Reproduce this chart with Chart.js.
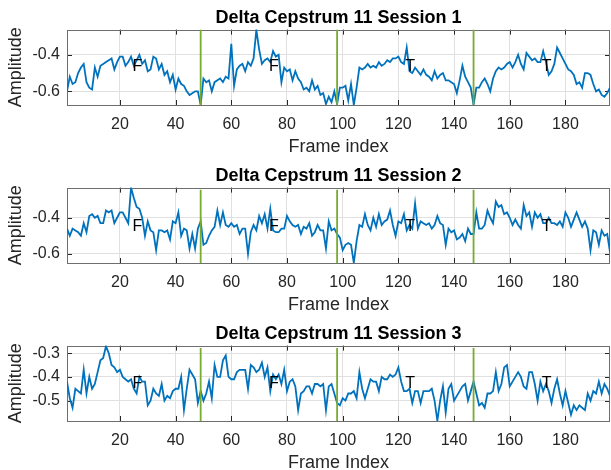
<!DOCTYPE html>
<html>
<head>
<meta charset="utf-8">
<script src="https://cdn.jsdelivr.net/npm/chart.js@4.4.1/dist/chart.umd.min.js"></script>
<style>
  body { margin: 0; background: #fff; width: 611px; height: 470px; overflow: hidden; position: relative; }
  canvas { position: absolute; left: 0; }
</style>
</head>
<body>
<canvas id="chart1" width="611" height="158" style="top:0px"></canvas>
<canvas id="chart2" width="611" height="158" style="top:158px"></canvas>
<canvas id="chart3" width="611" height="158" style="top:316px"></canvas>
<script>
// Delta cepstrum 11 values, frames 1..196
const session1 = [
  -0.60, -0.52, -0.56, -0.55, -0.50, -0.47, -0.45, -0.55, -0.58, -0.59,
  -0.47, -0.52, -0.46, -0.45, -0.44, -0.43, -0.42, -0.48, -0.44, -0.41,
  -0.41, -0.46, -0.44, -0.41, -0.46, -0.43, -0.40, -0.45, -0.43, -0.49,
  -0.48, -0.41, -0.42, -0.48, -0.45, -0.51, -0.49, -0.55, -0.51, -0.59,
  -0.53, -0.56, -0.57, -0.60, -0.62, -0.61, -0.60, -0.60, -0.675, -0.53,
  -0.55, -0.54, -0.60, -0.55, -0.54, -0.53, -0.55, -0.52, -0.53, -0.34,
  -0.57, -0.48, -0.46, -0.45, -0.49, -0.44, -0.46, -0.42, -0.263, -0.37,
  -0.45, -0.43, -0.42, -0.44, -0.38, -0.41, -0.40, -0.55, -0.47, -0.49,
  -0.48, -0.54, -0.49, -0.53, -0.55, -0.59, -0.58, -0.60, -0.54, -0.59,
  -0.57, -0.62, -0.61, -0.67, -0.63, -0.66, -0.60, -0.67, -0.58, -0.58,
  -0.57, -0.65, -0.56, -0.675, -0.58, -0.47, -0.48, -0.47, -0.45, -0.47,
  -0.46, -0.47, -0.44, -0.46, -0.45, -0.43, -0.44, -0.42, -0.42, -0.41,
  -0.44, -0.45, -0.36, -0.49, -0.50, -0.47, -0.49, -0.51, -0.48, -0.51,
  -0.52, -0.54, -0.49, -0.53, -0.51, -0.50, -0.54, -0.54, -0.55, -0.56,
  -0.61, -0.54, -0.46, -0.52, -0.55, -0.58, -0.675, -0.58, -0.58, -0.55,
  -0.53, -0.56, -0.60, -0.53, -0.49, -0.47, -0.48, -0.47, -0.45, -0.44,
  -0.47, -0.44, -0.40, -0.45, -0.48, -0.39, -0.41, -0.43, -0.42, -0.44,
  -0.44, -0.38, -0.44, -0.51, -0.49, -0.45, -0.36, -0.39, -0.42, -0.45,
  -0.48, -0.49, -0.51, -0.56, -0.55, -0.58, -0.50, -0.50, -0.51, -0.56,
  -0.60, -0.59, -0.62, -0.63, -0.61, -0.58
];
const session2 = [
  -0.46, -0.50, -0.46, -0.47, -0.48, -0.50, -0.43, -0.48, -0.39, -0.38,
  -0.40, -0.39, -0.43, -0.43, -0.36, -0.37, -0.36, -0.43, -0.40, -0.37,
  -0.37, -0.40, -0.43, -0.233, -0.29, -0.34, -0.35, -0.40, -0.50, -0.42,
  -0.47, -0.48, -0.58, -0.47, -0.47, -0.48, -0.47, -0.52, -0.42, -0.43,
  -0.37, -0.50, -0.46, -0.47, -0.57, -0.49, -0.57, -0.46, -0.42, -0.55,
  -0.54, -0.50, -0.47, -0.45, -0.36, -0.44, -0.37, -0.44, -0.45, -0.43,
  -0.45, -0.44, -0.49, -0.46, -0.46, -0.60, -0.48, -0.44, -0.47, -0.39,
  -0.43, -0.38, -0.46, -0.35, -0.47, -0.48, -0.48, -0.46, -0.46, -0.39,
  -0.42, -0.44, -0.45, -0.44, -0.49, -0.45, -0.46, -0.43, -0.50, -0.48,
  -0.44, -0.47, -0.47, -0.57, -0.42, -0.47, -0.46, -0.49, -0.51, -0.58,
  -0.55, -0.54, -0.55, -0.65, -0.53, -0.44, -0.45, -0.38, -0.44, -0.47,
  -0.40, -0.45, -0.38, -0.44, -0.42, -0.41, -0.36, -0.44, -0.50, -0.42,
  -0.43, -0.38, -0.47, -0.44, -0.46, -0.32, -0.46, -0.42, -0.43, -0.44,
  -0.43, -0.46, -0.44, -0.39, -0.43, -0.44, -0.55, -0.46, -0.48, -0.47,
  -0.52, -0.51, -0.49, -0.53, -0.46, -0.49, -0.49, -0.37, -0.46, -0.46,
  -0.44, -0.36, -0.40, -0.43, -0.31, -0.34, -0.33, -0.38, -0.37, -0.40,
  -0.44, -0.41, -0.44, -0.46, -0.33, -0.39, -0.37, -0.45, -0.37, -0.40,
  -0.38, -0.43, -0.43, -0.40, -0.43, -0.43, -0.44, -0.42, -0.45, -0.37,
  -0.40, -0.45, -0.41, -0.37, -0.41, -0.45, -0.42, -0.46, -0.58, -0.47,
  -0.48, -0.55, -0.47, -0.50, -0.49, -0.59
];
const session3 = [
  -0.42, -0.49, -0.53, -0.45, -0.46, -0.47, -0.37, -0.47, -0.40, -0.45,
  -0.43, -0.38, -0.33, -0.32, -0.27, -0.30, -0.35, -0.36, -0.38, -0.37,
  -0.40, -0.41, -0.42, -0.41, -0.45, -0.47, -0.40, -0.42, -0.42, -0.52,
  -0.50, -0.45, -0.47, -0.48, -0.43, -0.50, -0.48, -0.49, -0.46, -0.45,
  -0.45, -0.40, -0.54, -0.45, -0.37, -0.39, -0.41, -0.51, -0.46, -0.50,
  -0.47, -0.42, -0.49, -0.35, -0.40, -0.40, -0.33, -0.31, -0.40, -0.41,
  -0.41, -0.38, -0.37, -0.37, -0.37, -0.45, -0.35, -0.36, -0.38, -0.37,
  -0.34, -0.40, -0.36, -0.46, -0.39, -0.41, -0.39, -0.43, -0.37, -0.46,
  -0.42, -0.41, -0.44, -0.54, -0.47, -0.46, -0.44, -0.44, -0.47, -0.43,
  -0.43, -0.44, -0.43, -0.54, -0.44, -0.43, -0.47, -0.51, -0.52, -0.49,
  -0.50, -0.47, -0.47, -0.46, -0.49, -0.38, -0.45, -0.49, -0.45, -0.41,
  -0.42, -0.42, -0.46, -0.40, -0.41, -0.41, -0.39, -0.40, -0.39, -0.36,
  -0.42, -0.46, -0.46, -0.45, -0.51, -0.46, -0.46, -0.51, -0.46, -0.46,
  -0.46, -0.45, -0.50, -0.585, -0.50, -0.44, -0.55, -0.45, -0.43, -0.50,
  -0.48, -0.46, -0.44, -0.43, -0.50, -0.46, -0.42, -0.47, -0.52, -0.51,
  -0.53, -0.47, -0.47, -0.46, -0.38, -0.46, -0.43, -0.36, -0.35, -0.44,
  -0.42, -0.40, -0.38, -0.40, -0.44, -0.45, -0.38, -0.38, -0.43, -0.50,
  -0.42, -0.46, -0.43, -0.46, -0.51, -0.45, -0.41, -0.47, -0.52, -0.46,
  -0.51, -0.56, -0.52, -0.54, -0.52, -0.53, -0.54, -0.47, -0.50, -0.46,
  -0.47, -0.42, -0.47, -0.43, -0.45, -0.48
];

// segment boundaries (green lines) and the F / T marks
const boundaries = [49, 98, 147];
const markX = [24.5, 73.5, 122.5, 171.5];
const markText = ['F', 'F', 'T', 'T'];

// axis ticks and limits
const xTicks = [20, 40, 60, 80, 100, 120, 140, 160, 180];
const xLimits = [1, 196];
const yTicks1 = [-0.6, -0.4];
const yTicks2 = [-0.6, -0.4];
const yTicks3 = [-0.5, -0.4, -0.3];
const yLimits1 = [-0.675, -0.262];
const yLimits2 = [-0.651, -0.2325];
const yLimits3 = [-0.586, -0.268];
const boundaryTop = [-0.262, -0.244, -0.278];
const markY = [-0.467, -0.45, -0.428];

Chart.defaults.font.family = "'Liberation Sans', Arial, Helvetica, sans-serif";
Chart.defaults.color = '#262626';

// box, inward ticks and the F/T texts, matlab style
const matlabAxes = {
  id: 'matlabAxes',
  beforeDatasetsDraw(chart) {
    const { ctx, chartArea: a, scales: { x, y } } = chart;
    ctx.save();
    ctx.strokeStyle = '#262626';
    ctx.lineWidth = 1;
    ctx.beginPath();
    x.ticks.forEach(t => {
      const px = Math.round(x.getPixelForValue(t.value)) + 0.5;
      ctx.moveTo(px, a.bottom); ctx.lineTo(px, a.bottom - 5);
      ctx.moveTo(px, a.top); ctx.lineTo(px, a.top + 5);
    });
    y.ticks.forEach(t => {
      const py = Math.round(y.getPixelForValue(t.value)) + 0.5;
      ctx.moveTo(a.left, py); ctx.lineTo(a.left + 5, py);
      ctx.moveTo(a.right, py); ctx.lineTo(a.right - 5, py);
    });
    ctx.stroke();
    ctx.strokeStyle = '#6e6e6e';
    ctx.strokeRect(Math.round(a.left) + 0.5, Math.round(a.top) + 0.5,
                   Math.round(a.width) - 1, Math.round(a.height));
    ctx.restore();
  },
  afterDatasetsDraw(chart, args, opts) {
    const { ctx, scales: { x, y } } = chart;
    ctx.save();
    ctx.font = "16px 'Liberation Sans', Arial, sans-serif";
    ctx.fillStyle = '#000';
    ctx.textAlign = 'left';
    ctx.textBaseline = 'middle';
    markText.forEach((t, i) => {
      ctx.fillText(t, x.getPixelForValue(markX[i]), y.getPixelForValue(opts.y));
    });
    ctx.restore();
  }
};

function makeChart(id, title, xTitle, values, yTicks, yLimits, lineTop, textY) {
  const frames = values.map((_, i) => i + 1);
  const datasets = [{
    data: frames.map((f, i) => ({ x: f, y: values[i] })),
    borderColor: '#0072BD',
    borderWidth: 1.8,
    pointRadius: 0,
    order: 2
  }];
  boundaries.forEach(b => {
    datasets.push({
      data: [{ x: b, y: yLimits[0] }, { x: b, y: lineTop }],
      borderColor: '#77AC30',
      borderWidth: 1.8,
      pointRadius: 0,
      order: 1
    });
  });

  return new Chart(document.getElementById(id), {
    type: 'line',
    data: { datasets: datasets },
    plugins: [matlabAxes],
    options: {
      responsive: false,
      animation: false,
      layout: { padding: { left: 0, right: 1, top: 0, bottom: 0 } },
      scales: {
        x: {
          type: 'linear',
          min: xLimits[0],
          max: xLimits[1],
          afterBuildTicks: s => { s.ticks = xTicks.map(v => ({ value: v })); },
          afterFit: s => { s.height = 53; },
          grid: { color: '#e0e0e0', drawTicks: false },
          border: { display: false },
          ticks: { padding: 10, color: '#262626', font: { size: 16 } },
          title: { display: true, text: xTitle, color: '#262626', font: { size: 18 }, padding: 0 }
        },
        y: {
          min: yLimits[0],
          max: yLimits[1],
          afterBuildTicks: s => { s.ticks = yTicks.map(v => ({ value: v })); },
          afterFit: s => { s.width = 67; },
          grid: { color: '#e0e0e0', drawTicks: false },
          border: { display: false },
          ticks: { padding: 7, color: '#262626', font: { size: 16 }, callback: v => v.toFixed(1) },
          title: { display: true, text: 'Amplitude', color: '#262626', font: { size: 18 }, padding: { top: 5, bottom: 0 } }
        }
      },
      plugins: {
        legend: { display: false },
        tooltip: { enabled: false },
        title: {
          display: true,
          text: title,
          fullSize: false,
          color: '#000',
          font: { size: 18, weight: 'bold' },
          padding: { top: 7, bottom: 1 }
        },
        matlabAxes: { y: textY }
      }
    }
  });
}

makeChart('chart1', 'Delta Cepstrum 11 Session 1', 'Frame index', session1, yTicks1, yLimits1, boundaryTop[0], markY[0]);
makeChart('chart2', 'Delta Cepstrum 11 Session 2', 'Frame Index', session2, yTicks2, yLimits2, boundaryTop[1], markY[1]);
makeChart('chart3', 'Delta Cepstrum 11 Session 3', 'Frame Index', session3, yTicks3, yLimits3, boundaryTop[2], markY[2]);
</script>
</body>
</html>
